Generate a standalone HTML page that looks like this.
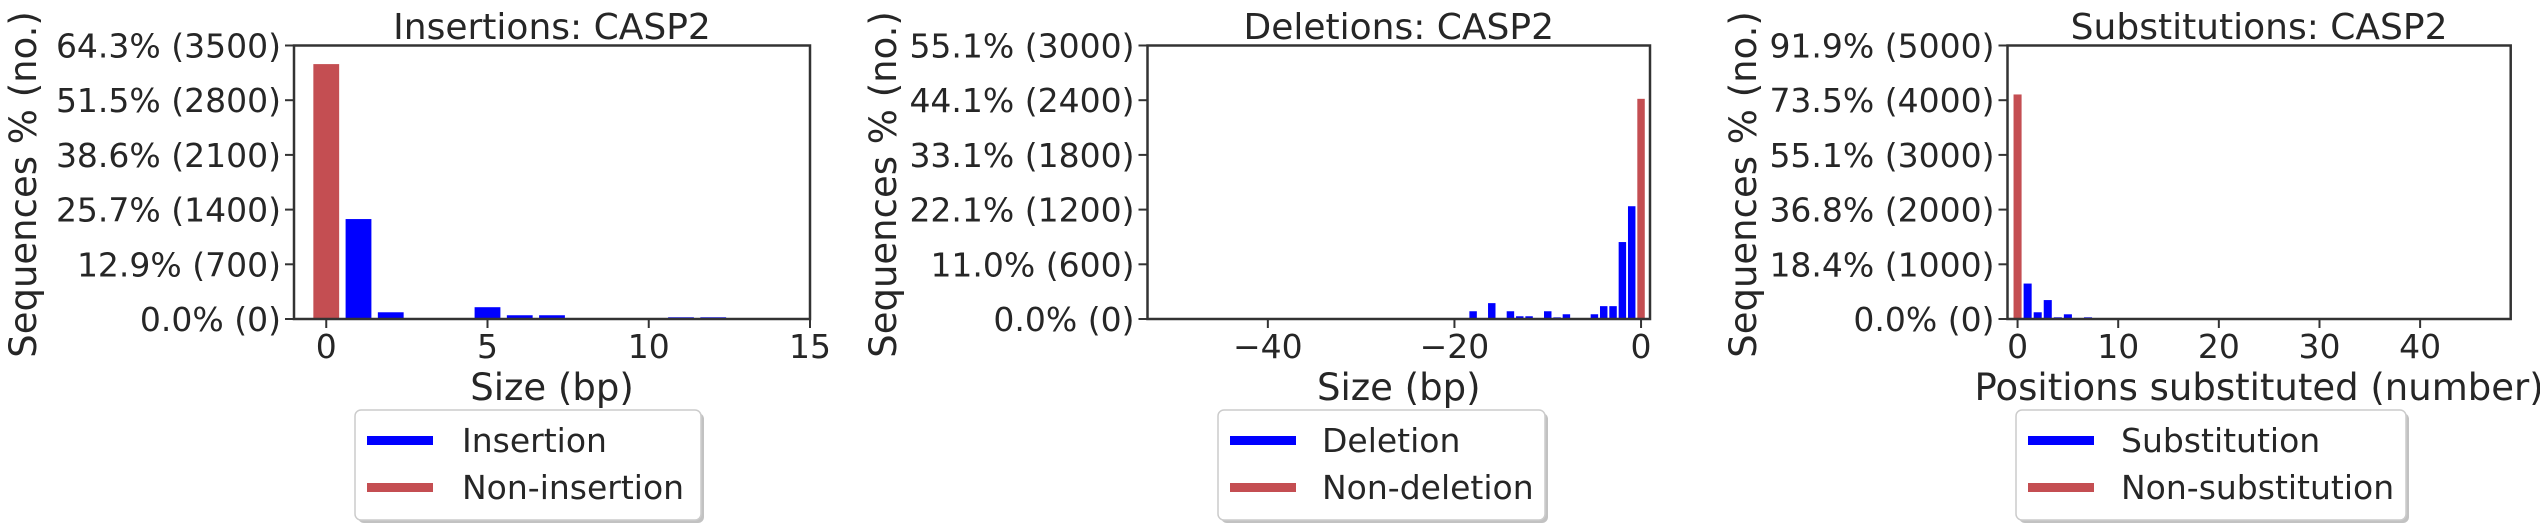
<!DOCTYPE html>
<html><head><meta charset="utf-8">
<style>
html,body{margin:0;padding:0;background:#fff;}
svg{display:block;font-family:"DejaVu Sans","Liberation Sans",sans-serif;}
</style></head>
<body>
<svg id="fig" width="2540" height="529" viewBox="0 0 2540 529" xmlns="http://www.w3.org/2000/svg"></svg>
<script>
// Panel 1: insertions
const insCats = [1, 2, 3, 5, 6, 7, 11, 12];
const insVals = [1279, 86, 5, 151, 48, 48, 22, 22];
const insNonCats = [0];
const insNonVals = [3262];
const insYTicks = [0, 700, 1400, 2100, 2800, 3500];
const insYLabels = ["0.0% (0)", "12.9% (700)", "25.7% (1400)", "38.6% (2100)", "51.5% (2800)", "64.3% (3500)"];
const insXTicks = [0, 5, 10, 15];
const insXLabels = ["0", "5", "10", "15"];
// Panel 2: deletions
const delCats = [-1, -2, -3, -4, -5, -6, -7, -8, -9, -10, -12, -13, -14, -16, -18, -26];
const delVals = [1237, 844, 141, 141, 52, 5, 5, 52, 18, 85, 30, 30, 85, 174, 85, 3];
const delNonCats = [0];
const delNonVals = [2415];
const delYTicks = [0, 600, 1200, 1800, 2400, 3000];
const delYLabels = ["0.0% (0)", "11.0% (600)", "22.1% (1200)", "33.1% (1800)", "44.1% (2400)", "55.1% (3000)"];
const delXTicks = [-40, -20, 0];
const delXLabels = ["\u221240", "\u221220", "0"];
// Panel 3: substitutions
const subCats = [1, 2, 3, 4, 5, 6, 7, 14];
const subVals = [648, 123, 346, 31, 86, 5, 31, 3];
const subNonCats = [0];
const subNonVals = [4105];
const subYTicks = [0, 1000, 2000, 3000, 4000, 5000];
const subYLabels = ["0.0% (0)", "18.4% (1000)", "36.8% (2000)", "55.1% (3000)", "73.5% (4000)", "91.9% (5000)"];
const subXTicks = [0, 10, 20, 30, 40];
const subXLabels = ["0", "10", "20", "30", "40"];

const NS = "http://www.w3.org/2000/svg";
const svg = document.getElementById("fig");
const TXT = "#262626", AX = "#333333", BLUE = "#0000ff", RED = "#c44e52";
function mk(tag, attrs, parent) {
  const e = document.createElementNS(NS, tag);
  for (const k in attrs) e.setAttribute(k, attrs[k]);
  (parent || svg).appendChild(e);
  return e;
}
function panel(cfg) {
  const g = mk("g", {});
  
  
  const x = v => cfg.x0 + (v - cfg.xmin) / (cfg.xmax - cfg.xmin) * (cfg.x1 - cfg.x0);
  const y = v => cfg.y1 - v / cfg.ymax * (cfg.y1 - cfg.y0);
  const bw = 0.8 * (cfg.x1 - cfg.x0) / (cfg.xmax - cfg.xmin);
  const drawBars = (cats, vals, color, nm) => {
    cats.forEach((c, i) => {
      const r = mk("rect", {x: x(c) - bw / 2, y: y(vals[i]), width: bw, height: Math.max(0, y(0) - y(vals[i])), fill: color}, g);
      
      
    });
  };
  drawBars(cfg.nonCats, cfg.nonVals, RED, "non-bar");
  drawBars(cfg.cats, cfg.vals, BLUE, "bar");
  const frame = mk("rect", {x: cfg.x0, y: cfg.y0, width: cfg.x1 - cfg.x0, height: cfg.y1 - cfg.y0, fill: "none", stroke: AX, "stroke-width": 2.5}, g);
  
  
  cfg.yTicks.forEach((t, i) => {
    mk("line", {x1: cfg.x0 - 9, x2: cfg.x0, y1: y(t), y2: y(t), stroke: AX, "stroke-width": 2}, g);
    const tx = mk("text", {x: cfg.x0 - 13, y: y(t) + 12, "text-anchor": "end", "font-size": 33, fill: TXT}, g);
    tx.textContent = cfg.yLabels[i];
    
    
  });
  cfg.xTicks.forEach((t, i) => {
    mk("line", {x1: x(t), x2: x(t), y1: cfg.y1, y2: cfg.y1 + 9, stroke: AX, "stroke-width": 2}, g);
    const tx = mk("text", {x: x(t), y: cfg.y1 + 39, "text-anchor": "middle", "font-size": 33, fill: TXT}, g);
    tx.textContent = cfg.xLabels[i];
    
    
  });
  const cx = (cfg.x0 + cfg.x1) / 2;
  const title = mk("text", {x: cx, y: 39, "text-anchor": "middle", "font-size": 36, fill: TXT}, g);
  title.textContent = cfg.title;
  
  
  const xl = mk("text", {x: cx, y: 400, "text-anchor": "middle", "font-size": 37, fill: TXT}, g);
  xl.textContent = cfg.xTitle;
  
  
  const yl = mk("text", {x: 0, y: 0, "text-anchor": "middle", "font-size": 37, fill: TXT, transform: `translate(${cfg.ylx + 12},${(17 + 352) / 2}) rotate(-90)`}, g);
  yl.textContent = "Sequences % (no.)";
  
  
  // legend
  const lg = mk("g", {}, g);
  
  
  mk("rect", {x: cfg.lx0 + 3, y: 413, width: cfg.lx1 - cfg.lx0, height: 110, rx: 6, fill: "#999", opacity: 0.6}, lg);
  mk("rect", {x: cfg.lx0, y: 410, width: cfg.lx1 - cfg.lx0, height: 110, rx: 6, fill: "#fff", stroke: "#cccccc", "stroke-width": 1.5}, lg);
  [[BLUE, cfg.leg[0], 440], [RED, cfg.leg[1], 487]].forEach(([c, t, cy], k) => {
    const h = mk("rect", {x: cfg.lx0 + 12, y: cy - 4, width: 66, height: 9, fill: c}, lg);
    
    
    const tx = mk("text", {x: cfg.ltx, y: cy + 12, "font-size": 33, fill: TXT}, lg);
    tx.textContent = t;
    
    
  });
}
panel({name: "insertions-panel", x0: 294, x1: 810, y0: 45.5, y1: 319, xmin: -1, xmax: 15, ymax: 3500,
  cats: insCats, vals: insVals, nonCats: insNonCats, nonVals: insNonVals,
  yTicks: insYTicks, yLabels: insYLabels, xTicks: insXTicks, xLabels: insXLabels,
  title: "Insertions: CASP2", xTitle: "Size (bp)", ylx: 24,
  lx0: 355, lx1: 701, ltx: 462, leg: ["Insertion", "Non-insertion"]});
panel({name: "deletions-panel", x0: 1147.5, x1: 1650, y0: 45.5, y1: 319, xmin: -52.9, xmax: 0.96, ymax: 3000,
  cats: delCats, vals: delVals, nonCats: delNonCats, nonVals: delNonVals,
  yTicks: delYTicks, yLabels: delYLabels, xTicks: delXTicks, xLabels: delXLabels,
  title: "Deletions: CASP2", xTitle: "Size (bp)", ylx: 884,
  lx0: 1218, lx1: 1545, ltx: 1322, leg: ["Deletion", "Non-deletion"]});
panel({name: "substitutions-panel", x0: 2007.5, x1: 2510.7, y0: 45.5, y1: 319, xmin: -1, xmax: 49, ymax: 5000,
  cats: subCats, vals: subVals, nonCats: subNonCats, nonVals: subNonVals,
  yTicks: subYTicks, yLabels: subYLabels, xTicks: subXTicks, xLabels: subXLabels,
  title: "Substitutions: CASP2", xTitle: "Positions substituted (number)", ylx: 1744,
  lx0: 2016, lx1: 2406, ltx: 2121, leg: ["Substitution", "Non-substitution"]});
</script>
</body></html>
